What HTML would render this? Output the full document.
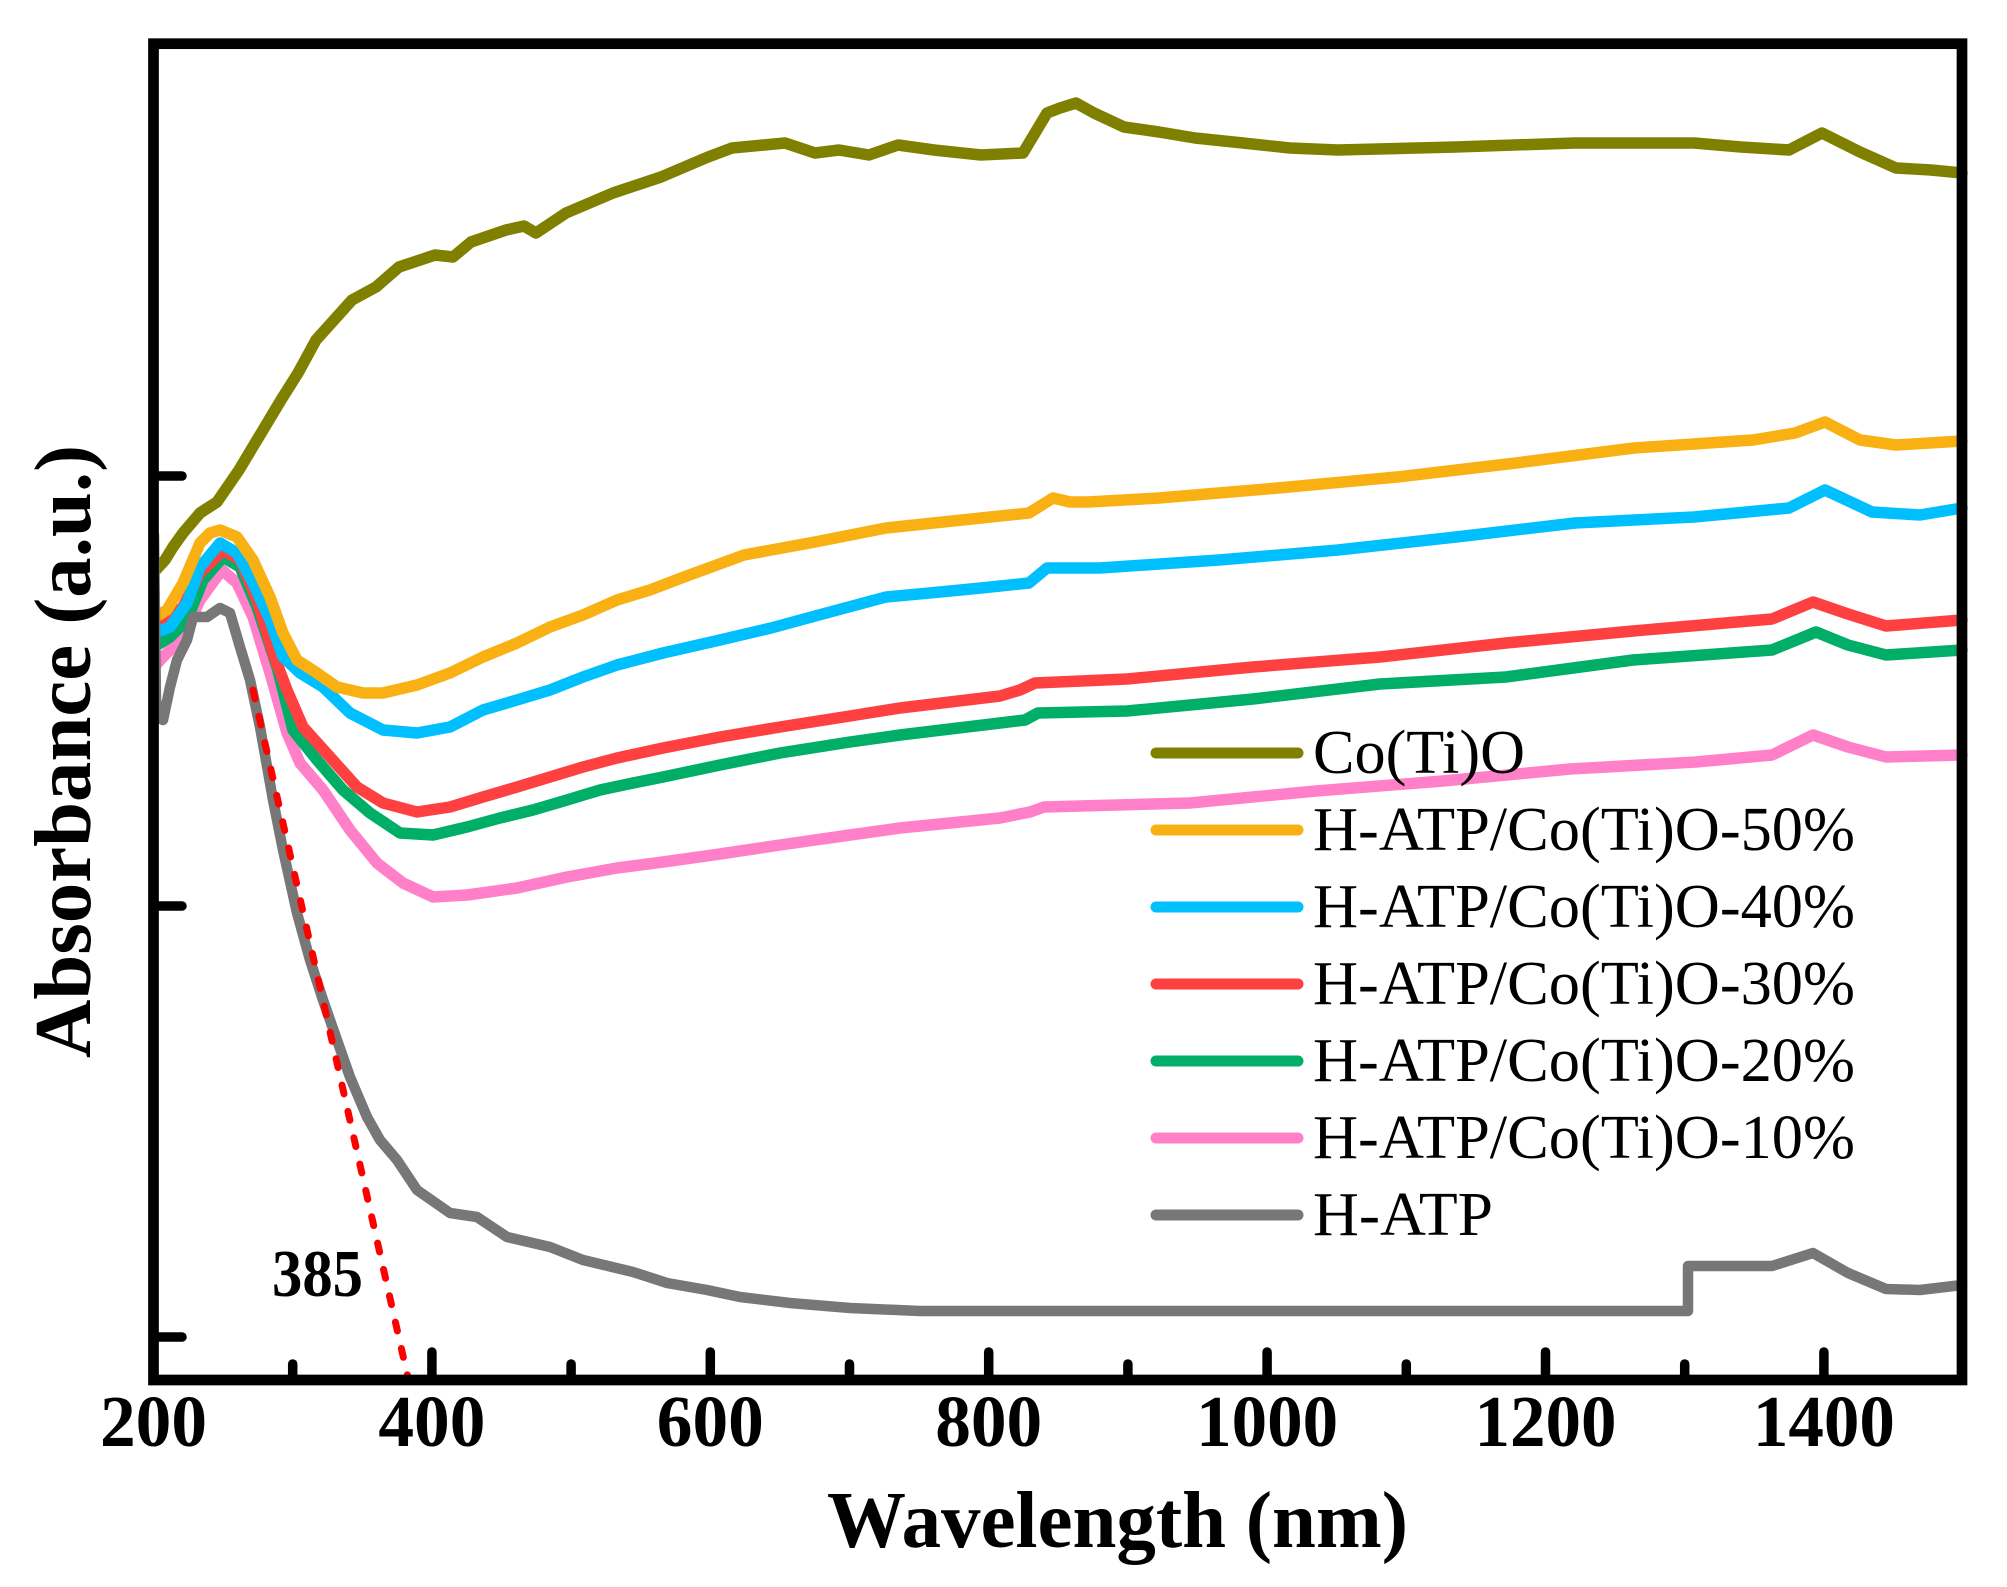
<!DOCTYPE html>
<html>
<head>
<meta charset="utf-8">
<style>
html,body{margin:0;padding:0;background:#fff;}
svg{display:block;}
text{font-family:"Liberation Serif","Times New Roman",serif;}
</style>
</head>
<body>
<svg width="2007" height="1587" viewBox="0 0 2007 1587" xmlns="http://www.w3.org/2000/svg">
<rect width="2007" height="1587" fill="#fff"/>
<g fill="none" stroke-width="11.5" stroke-linejoin="round" stroke-linecap="round">
<!-- pink 10% -->
<polyline stroke="#ff80c8" points="154,667 163,657 183,637 200,600 222,570 237,583 253,617 270,673 287,733 300,763 323,790 350,830 377,863 403,883 433,897 467,895 517,888 567,877 617,868 663,862 720,854 780,845 850,835 900,828 1000,818 1030,812 1044,807 1190,803 1316,791 1443,781 1570,769 1696,762 1772,755 1813,735 1848,747 1886,757 1962,755"/>
<!-- green 20% -->
<polyline stroke="#00ae68" points="154,647 170,637 187,620 203,580 223,557 240,567 257,607 277,667 293,730 317,760 343,790 370,813 400,833 433,835 467,827 500,818 533,810 567,800 600,790 633,783 663,777 720,765 780,753 850,742 900,735 1000,723 1025,720 1038,713 1127,711 1253,699 1380,684 1506,677 1633,660 1772,650 1816,632 1848,645 1886,655 1962,650"/>
<!-- red 30% -->
<polyline stroke="#ff4040" points="154,630 183,607 200,573 223,550 240,560 257,600 273,653 287,690 303,727 330,757 357,787 383,803 417,812 450,807 483,797 517,787 550,777 583,767 617,758 663,748 720,737 780,727 850,716 900,708 1000,696 1020,690 1035,683 1127,679 1253,667 1380,657 1506,643 1633,631 1772,619 1813,602 1848,614 1886,626 1962,620"/>
<!-- blue 40% -->
<polyline stroke="#00bfff" points="154,633 170,627 187,603 200,567 220,543 237,553 253,583 270,620 283,657 300,673 323,687 350,713 383,730 417,733 450,727 483,710 517,700 550,690 583,677 617,665 663,653 720,640 771,628 830,612 886,597 940,592 981,588 1029,583 1047,568 1100,568 1219,560 1338,550 1456,537 1575,523 1694,517 1789,508 1825,490 1872,512 1920,515 1962,508"/>
<!-- orange 50% -->
<polyline stroke="#f8b012" points="154,618 167,610 183,583 200,543 210,533 220,530 237,537 253,560 270,597 283,633 297,660 317,673 337,687 363,693 383,693 417,685 450,673 483,657 517,643 550,627 583,615 617,600 650,590 684,577 744,555 815,542 886,528 981,518 1029,513 1053,498 1070,502 1088,502 1159,498 1278,488 1397,477 1516,463 1634,448 1753,440 1795,433 1825,422 1860,440 1896,445 1962,441"/>
<!-- olive Co(Ti)O -->
<polyline stroke="#808000" points="154,572 165,560 173,547 183,533 200,513 217,502 239,470 263,430 281,400 298,373 316,340 334,320 352,300 376,287 399,267 435,255 453,257 471,242 506,230 524,226 536,233 566,213 613,193 661,177 708,157 732,148 785,143 815,153 839,150 869,155 898,145 934,150 981,155 1023,153 1035,133 1047,113 1060,108 1076,103 1094,113 1124,127 1159,132 1195,138 1243,143 1290,148 1338,150 1456,147 1575,143 1694,143 1741,147 1789,150 1822,133 1860,152 1896,168 1931,170 1962,173"/>
<!-- gray H-ATP -->
<polyline stroke="#777777" stroke-width="10.5" points="154,535 156,700 159,718 163,720 170,687 177,660 187,640 193,617 207,617 220,608 230,613 240,647 250,680 260,727 273,800 283,850 297,913 310,960 323,1000 337,1040 350,1077 367,1117 380,1140 397,1160 417,1190 450,1213 477,1217 507,1237 550,1247 583,1260 633,1272 667,1283 707,1290 740,1297 790,1303 850,1308 920,1311 1688,1311 1688,1266 1772,1266 1813,1253 1848,1273 1886,1289 1920,1290 1962,1285"/>
</g>
<!-- red dashed tangent -->
<line x1="253" y1="690" x2="408" y2="1378" stroke="#ff0000" stroke-width="7" stroke-linecap="round" stroke-dasharray="9 18"/>

<!-- axes frame -->
<rect x="153.5" y="43.7" width="1808.5" height="1336.3" fill="none" stroke="#000" stroke-width="10.7"/>
<!-- ticks -->
<g stroke="#000" stroke-width="9.5" stroke-linecap="round">
<line x1="431.9" y1="1378" x2="431.9" y2="1352"/>
<line x1="710.3" y1="1378" x2="710.3" y2="1352"/>
<line x1="988.7" y1="1378" x2="988.7" y2="1352"/>
<line x1="1267.1" y1="1378" x2="1267.1" y2="1352"/>
<line x1="1545.5" y1="1378" x2="1545.5" y2="1352"/>
<line x1="1823.9" y1="1378" x2="1823.9" y2="1352"/>
<line x1="292.7" y1="1378" x2="292.7" y2="1364"/>
<line x1="571.1" y1="1378" x2="571.1" y2="1364"/>
<line x1="849.5" y1="1378" x2="849.5" y2="1364"/>
<line x1="1127.9" y1="1378" x2="1127.9" y2="1364"/>
<line x1="1406.3" y1="1378" x2="1406.3" y2="1364"/>
<line x1="1684.7" y1="1378" x2="1684.7" y2="1364"/>
<line x1="156" y1="476" x2="182" y2="476"/>
<line x1="156" y1="906" x2="182" y2="906"/>
<line x1="156" y1="1337" x2="182" y2="1337"/>
</g>

<!-- tick labels -->
<g font-weight="bold" font-size="73" fill="#000" text-anchor="middle">
<text x="153.5" y="1446" textLength="107" lengthAdjust="spacingAndGlyphs">200</text>
<text x="431.9" y="1446" textLength="107" lengthAdjust="spacingAndGlyphs">400</text>
<text x="710.3" y="1446" textLength="107" lengthAdjust="spacingAndGlyphs">600</text>
<text x="988.7" y="1446" textLength="107" lengthAdjust="spacingAndGlyphs">800</text>
<text x="1267.1" y="1446" textLength="142" lengthAdjust="spacingAndGlyphs">1000</text>
<text x="1545.5" y="1446" textLength="142" lengthAdjust="spacingAndGlyphs">1200</text>
<text x="1823.9" y="1446" textLength="142" lengthAdjust="spacingAndGlyphs">1400</text>
</g>

<!-- axis titles -->
<text x="827" y="1547" font-weight="bold" font-size="80" textLength="581" lengthAdjust="spacingAndGlyphs" fill="#000">Wavelength (nm)</text>
<text transform="translate(90,1058) rotate(-90)" font-weight="bold" font-size="80" textLength="613" lengthAdjust="spacingAndGlyphs" fill="#000">Absorbance (a.u.)</text>

<!-- annotation -->
<text x="272" y="1296" font-weight="bold" font-size="67" textLength="91" lengthAdjust="spacingAndGlyphs" fill="#000">385</text>

<!-- legend -->
<g stroke-width="11" stroke-linecap="round">
<line x1="1156" y1="753" x2="1298" y2="753" stroke="#808000"/>
<line x1="1156" y1="830" x2="1298" y2="830" stroke="#f8b012"/>
<line x1="1156" y1="907" x2="1298" y2="907" stroke="#00bfff"/>
<line x1="1156" y1="984" x2="1298" y2="984" stroke="#ff4040"/>
<line x1="1156" y1="1061" x2="1298" y2="1061" stroke="#00ae68"/>
<line x1="1156" y1="1138" x2="1298" y2="1138" stroke="#ff80c8"/>
<line x1="1156" y1="1215" x2="1298" y2="1215" stroke="#777777"/>
</g>
<g font-size="62" fill="#000">
<text x="1313" y="773" textLength="212" lengthAdjust="spacingAndGlyphs">Co(Ti)O</text>
<text x="1313" y="850" textLength="542" lengthAdjust="spacingAndGlyphs">H-ATP/Co(Ti)O-50%</text>
<text x="1313" y="927" textLength="542" lengthAdjust="spacingAndGlyphs">H-ATP/Co(Ti)O-40%</text>
<text x="1313" y="1004" textLength="542" lengthAdjust="spacingAndGlyphs">H-ATP/Co(Ti)O-30%</text>
<text x="1313" y="1081" textLength="542" lengthAdjust="spacingAndGlyphs">H-ATP/Co(Ti)O-20%</text>
<text x="1313" y="1158" textLength="542" lengthAdjust="spacingAndGlyphs">H-ATP/Co(Ti)O-10%</text>
<text x="1313" y="1235" textLength="180" lengthAdjust="spacingAndGlyphs">H-ATP</text>
</g>
</svg>
</body>
</html>
